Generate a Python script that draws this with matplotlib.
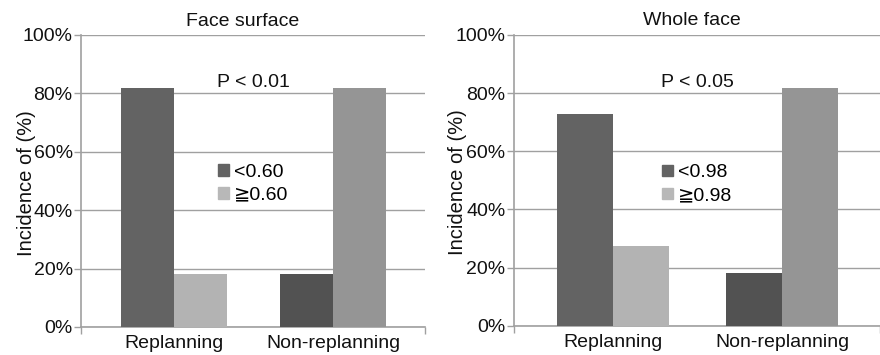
import matplotlib
matplotlib.use('Agg')
import matplotlib.pyplot as plt
from matplotlib.patches import Patch
import numpy as np

plt.rcParams['font.family'] = ['Liberation Sans', 'DejaVu Sans']

# data
groups = ['Replanning', 'Non-replanning']
titles = ['Face surface', 'Whole face']
p_texts = ['P < 0.01', 'P < 0.05']
legend_labels = [['<0.60', '≧0.60'], ['<0.98', '≧0.98']]
below_vals = [[81.8, 18.2], [72.7, 18.2]]   # "<" threshold, per group
above_vals = [[18.2, 81.8], [27.3, 81.8]]   # "≧" threshold, per group
yticks = [0, 20, 40, 60, 80, 100]

# per-bar colours (Replanning / Non-replanning)
below_colors = ['#636363', '#525252']
above_colors = ['#b3b3b3', '#959595']
axis_gray = '#a0a0a0'

fig = plt.figure(figsize=(8.8, 3.55), dpi=100)
positions = [[0.092, 0.079, 0.391, 0.823], [0.584, 0.082, 0.416, 0.820]]
xlims = [(-0.585, 1.579), (-0.586, 1.580)]
title_xy = [(0.471, 1.045), (0.486, 1.048)]
legend_y = [0.49, 0.486]
ylabel_x = [-0.131, -0.127]
width = 0.333

for k in range(2):
    ax = fig.add_axes(positions[k])
    x = np.arange(len(groups))
    ax.bar(x - width / 2, below_vals[k], width, color=below_colors, zorder=3)
    ax.bar(x + width / 2, above_vals[k], width, color=above_colors, zorder=3)

    ax.set_xlim(*xlims[k])
    ax.set_ylim(0, 100)
    ax.set_yticks(yticks)
    ax.set_yticklabels([f'{v}%' for v in yticks], fontsize=14, color='#111111')
    ax.yaxis.grid(True, color=axis_gray, linewidth=1.0, zorder=0)
    ax.set_axisbelow(True)

    ax.set_xticks(x)
    ax.set_xticklabels(groups, fontsize=14, color='#111111')
    ax.tick_params(axis='x', length=0, pad=6)
    ax.set_xticks(list(xlims[k]), minor=True)
    ax.tick_params(axis='x', which='minor', length=5, color=axis_gray, width=1.0)
    ax.tick_params(axis='y', length=5, color=axis_gray, width=1.0, pad=1)

    for s in ['top', 'right']:
        ax.spines[s].set_visible(False)
    for s in ['left', 'bottom']:
        ax.spines[s].set_color(axis_gray)
        ax.spines[s].set_linewidth(1.2)

    ax.set_ylabel('Incidence of (%)', fontsize=14.5, color='#111111')
    ax.yaxis.set_label_coords(ylabel_x[k], 0.493)
    ax.text(title_xy[k][0], title_xy[k][1], titles[k], transform=ax.transAxes,
            ha='center', va='center', fontsize=14, color='#111111')

    ax.text(0.5, 83.7, p_texts[k], ha='center', va='center', fontsize=14, color='#111111')

    handles = [Patch(color=below_colors[0]), Patch(color='#b8b8b8')]
    ax.legend(handles, legend_labels[k], loc='center', bbox_to_anchor=(0.5, legend_y[k]),
              frameon=False, fontsize=14, handlelength=0.55, handleheight=0.55,
              handletextpad=0.25, labelspacing=0.3, borderpad=0)

fig.savefig('out.png', dpi=100)
